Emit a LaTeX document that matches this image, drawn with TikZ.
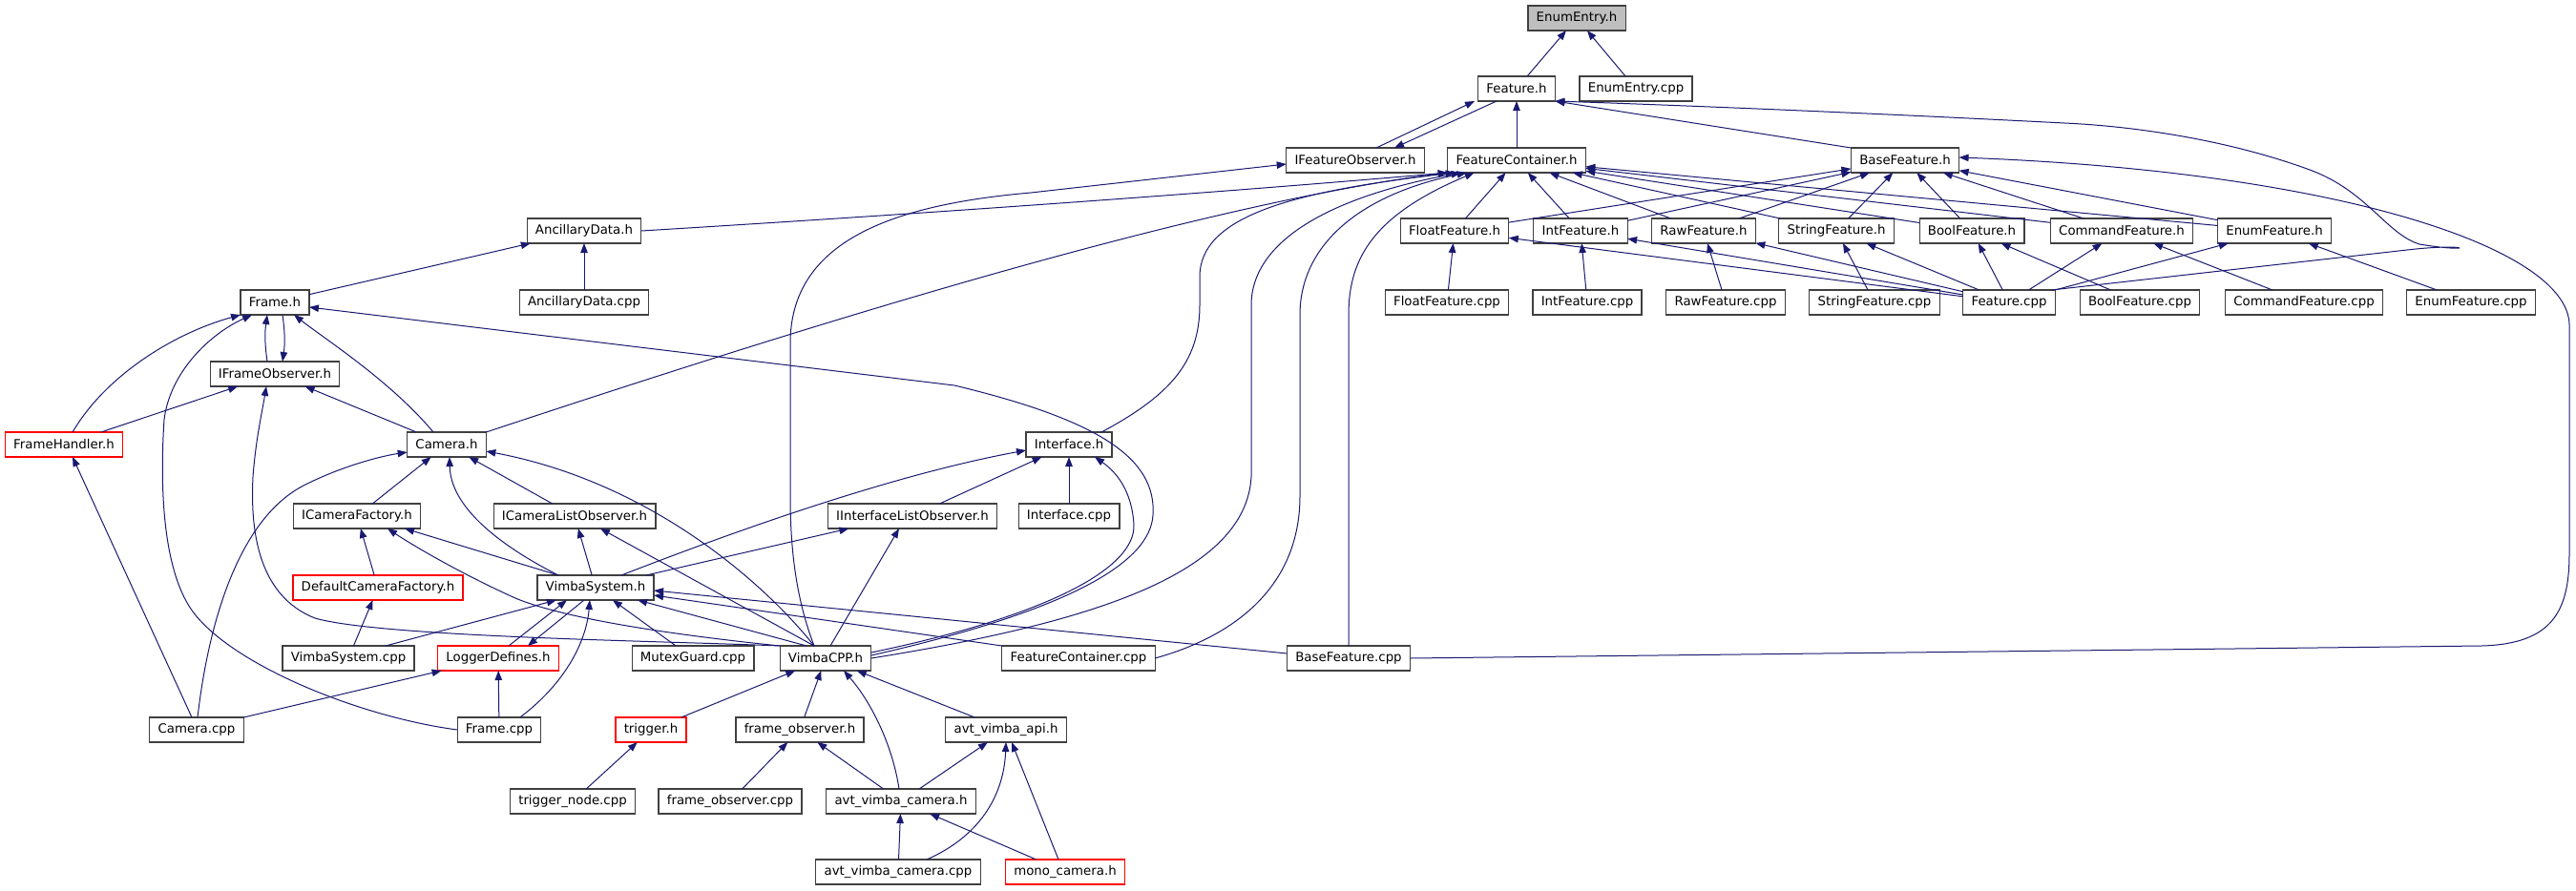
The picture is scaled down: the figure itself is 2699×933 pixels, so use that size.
\documentclass[tikz,border=0pt]{standalone}
\usepackage{fontspec}
\setmainfont{DejaVu Sans}
\usetikzlibrary{arrows.meta,calc}
\definecolor{edgeblue}{RGB}{25,25,112}
\definecolor{rootgray}{RGB}{191,191,191}
\begin{document}
\begin{tikzpicture}[x=0.75pt,y=-0.75pt,
  every node/.style={draw=black!75, line width=0.9pt, fill=white, minimum height=19.5pt, inner xsep=6.6pt, inner ysep=0pt, outer sep=0pt},
  root/.style={fill=rootgray},
  trunc/.style={draw=red},
  inc/.style={draw=edgeblue, line width=0.75pt, -{Triangle[length=7.5pt,width=5.6pt]}}]
\useasboundingbox (0,0) rectangle (2699,933);

\node (ee) [root] at (1652,19) {EnumEntry.h};
\node (fh) at (1589,93) {Feature.h};
\node (eecpp) at (1714,93) {EnumEntry.cpp};
\node (ifo) at (1420,168) {IFeatureObserver.h};
\node (fc) at (1589,168) {FeatureContainer.h};
\node (bf) at (1996,168) {BaseFeature.h};

\node (ad) at (612,242) {AncillaryData.h};
\node (ffh) at (1524,242) {FloatFeature.h};
\node (ifh) at (1656,242) {IntFeature.h};
\node (rfh) at (1785,242) {RawFeature.h};
\node (sfh) at (1924,242) {StringFeature.h};
\node (bofh) at (2066,242) {BoolFeature.h};
\node (cfh) at (2223,242) {CommandFeature.h};
\node (efh) at (2383,242) {EnumFeature.h};

\node (frh) at (288,317) {Frame.h};
\node (adcpp) at (612,317) {AncillaryData.cpp};
\node (ffcpp) at (1516,317) {FloatFeature.cpp};
\node (ifcpp) at (1663,317) {IntFeature.cpp};
\node (rfcpp) at (1808,317) {RawFeature.cpp};
\node (sfcpp) at (1964,317) {StringFeature.cpp};
\node (fcpp) at (2105,317) {Feature.cpp};
\node (bofcpp) at (2242,317) {BoolFeature.cpp};
\node (cfcpp) at (2414,317) {CommandFeature.cpp};
\node (efcpp) at (2589,317) {EnumFeature.cpp};

\node (ifro) at (288,392) {IFrameObserver.h};
\node (fhd) [trunc] at (67,466) {FrameHandler.h};
\node (cam) at (468,466) {Camera.h};
\node (intf) at (1120,466) {Interface.h};

\node (icf) at (374,541) {ICameraFactory.h};
\node (iclo) at (602,541) {ICameraListObserver.h};
\node (iilo) at (956,541) {IInterfaceListObserver.h};
\node (intfcpp) at (1120,541) {Interface.cpp};

\node (dcf) [trunc] at (396,616) {DefaultCameraFactory.h};
\node (vs) at (624,616) {VimbaSystem.h};

\node (vscpp) at (365,690) {VimbaSystem.cpp};
\node (ld) [trunc] at (522,690) {LoggerDefines.h};
\node (mg) at (726,690) {MutexGuard.cpp};
\node (vcpp) at (865,690) {VimbaCPP.h};
\node (fccpp) at (1130,690) {FeatureContainer.cpp};
\node (bfcpp) at (1413,690) {BaseFeature.cpp};

\node (camcpp) at (206,765) {Camera.cpp};
\node (frcpp) at (523,765) {Frame.cpp};
\node (trg) [trunc] at (682,765) {trigger.h};
\node (fo) at (838,765) {frame\_observer.h};
\node (api) at (1054,765) {avt\_vimba\_api.h};

\node (tn) at (600,840) {trigger\_node.cpp};
\node (focpp) at (765,840) {frame\_observer.cpp};
\node (avc) at (944,840) {avt\_vimba\_camera.h};

\node (avccpp) at (941,914) {avt\_vimba\_camera.cpp};
\node (mono) [trunc] at (1116,914) {mono\_camera.h};

\draw[inc] (fh) -- (ee);
\draw[inc] (eecpp) -- (ee);
\draw[inc] ($(ifo.north)+(22,0)$) -- ($(fh.south)+(-44,0)$);
\draw[inc] ($(fh.south)+(-21,0)$) -- ($(ifo.north)+(41,0)$);
\draw[inc] (fc) -- (fh);
\draw[inc] (bf.north west) -- (fh.south east);
\draw[inc] ($(fcpp.north east)+(-4,0)$) -- (2522,262) .. controls (2590,254) and (2595,266) .. (2535,256) .. controls (2500,245) and (2480,200) .. (2420,178) .. controls (2330,145) and (2230,132) .. (2163,129) .. controls (1950,118) and (1750,110) .. (fh.south east);
\draw[inc] (bfcpp.east) -- (2600,677) .. controls (2675,675) and (2692,640) .. (2692,580) -- (2692,340) .. controls (2690,260) and (2450,180) .. ($(bf.east)+(0,-3)$);

\draw[inc] (ffh) -- (fc);
\draw[inc] (ifh) -- (fc);
\draw[inc] (rfh) -- (fc);
\draw[inc] (sfh) -- (fc);
\draw[inc] (bofh) -- (fc);
\draw[inc] (cfh) -- (fc);
\draw[inc] (efh) -- (fc);
\draw[inc] (ffh) -- (bf);
\draw[inc] (ifh) -- (bf);
\draw[inc] (rfh) -- (bf);
\draw[inc] (sfh) -- (bf);
\draw[inc] (bofh) -- (bf);
\draw[inc] (cfh) -- (bf);
\draw[inc] (efh) -- (bf);
\draw[inc] (fcpp) -- (ffh);
\draw[inc] (fcpp) -- (ifh);
\draw[inc] (fcpp) -- (rfh);
\draw[inc] (fcpp) -- (sfh);
\draw[inc] (fcpp) -- (bofh);
\draw[inc] (fcpp) -- (cfh);
\draw[inc] (fcpp) -- (efh);
\draw[inc] (ffcpp) -- (ffh);
\draw[inc] (ifcpp) -- (ifh);
\draw[inc] (rfcpp) -- (rfh);
\draw[inc] (sfcpp) -- (sfh);
\draw[inc] (bofcpp) -- (bofh);
\draw[inc] (cfcpp) -- (cfh);
\draw[inc] (efcpp) -- (efh);

\draw[inc] (ad.east) .. controls (1000,222) and (1300,200) .. (fc.south west);
\draw[inc] (adcpp) -- (ad);
\draw[inc] (frh) -- (ad);

\draw[inc] ($(ifro.north)+(-8,0)$) to[bend left=8] ($(frh.south)+(-8,0)$);
\draw[inc] ($(frh.south)+(8,0)$) to[bend left=8] ($(ifro.north)+(8,0)$);
\draw[inc] ($(fhd.north)+(9,0)$) .. controls (110,395) and (180,350) .. (frh.south west);
\draw[inc] (fhd) -- (ifro);
\draw[inc] ($(cam.north)+(-14,0)$) .. controls (410,400) and (340,355) .. ($(frh.south)+(20,0)$);
\draw[inc] (cam) -- (ifro);
\draw[inc] (frcpp.west) .. controls (380,752) and (250,700) .. (205,645) .. controls (168,600) and (168,500) .. (172,440) .. controls (178,390) and (220,350) .. ($(frh.south west)+(12,0)$);
\draw[inc] ($(vcpp.east)+(0,-3)$) .. controls (1120,640) and (1205,590) .. (1208,540) .. controls (1212,480) and (1150,440) .. (1000,404) -- ($(frh.east)+(0,5)$);
\draw[inc] (vcpp.north west) .. controls (700,672) and (400,668) .. (330,648) .. controls (272,625) and (262,560) .. (265,500) .. controls (268,460) and (275,430) .. ($(ifro.south)+(-9,0)$);
\draw[inc] (vcpp.north west) .. controls (700,665) and (590,648) .. (540,627) .. controls (480,600) and (430,570) .. ($(icf.south)+(32,0)$);
\draw[inc] (cam.north east) .. controls (850,340) and (1250,215) .. (fc.south west);

\draw[inc] ($(camcpp.north)+(-5,0)$) -- ($(fhd.south)+(9,0)$);
\draw[inc] ($(camcpp.north)+(1,0)$) .. controls (220,640) and (255,540) .. (320,508) .. controls (360,488) and (400,478) .. ($(cam.west)+(0,8)$);
\draw[inc] (camcpp.north east) -- ($(ld.south west)+(4,0)$);

\draw[inc] (icf) -- (cam);
\draw[inc] ($(vs.north)+(-39,0)$) .. controls (520,570) and (472,530) .. ($(cam.south)+(3,0)$);
\draw[inc] (iclo) -- (cam);
\draw[inc] ($(vcpp.north)+(-12,0)$) .. controls (800,610) and (680,505) .. ($(cam.east)+(0,7)$);
\draw[inc] (dcf) -- (icf);
\draw[inc] ($(vs.north)+(-39,0)$) -- ($(icf.south)+(50,0)$);
\draw[inc] (vs) -- (iclo);
\draw[inc] ($(vcpp.north)+(-12,0)$) -- ($(iclo.south)+(27,0)$);

\draw[inc] (intfcpp) -- (intf);
\draw[inc] (iilo) -- (intf);
\draw[inc] ($(vs.north)+(27,0)$) .. controls (800,545) and (950,495) .. ($(intf.west)+(0,6)$);
\draw[inc] ($(vcpp.east)+(0,-6)$) .. controls (1100,645) and (1190,595) .. (1188,550) .. controls (1186,515) and (1170,495) .. ($(intf.south east)+(-18,0)$);
\draw[inc] ($(intf.north)+(34,0)$) .. controls (1225,415) and (1257,380) .. (1257,320) -- (1257,290) .. controls (1257,225) and (1360,200) .. ($(fc.south west)+(8,0)$);
\draw[inc] ($(vs.north east)+(-8,0)$) -- ($(iilo.south west)+(22,0)$);
\draw[inc] ($(vcpp.north)+(5,0)$) -- ($(iilo.south)+(-14,0)$);

\draw[inc] (vscpp) -- (dcf);
\draw[inc] ($(vscpp.north east)+(-30,0)$) -- ($(vs.south west)+(20,0)$);
\draw[inc] ($(ld.north)+(11,0)$) -- ($(vs.south)+(-30,0)$);
\draw[inc] ($(vs.south)+(-12,0)$) -- ($(ld.north)+(31,0)$);
\draw[inc] (mg) -- (vs);
\draw[inc] ($(vcpp.north)+(-20,0)$) -- ($(vs.south east)+(-17,0)$);
\draw[inc] (fccpp.north west) -- ($(vs.east)+(0,8)$);
\draw[inc] ($(bfcpp.west)+(0,-5)$) -- ($(vs.east)+(0,3)$);
\draw[inc] ($(frcpp.north east)+(-22,0)$) .. controls (590,718) and (614,675) .. ($(vs.south)+(-6,0)$);
\draw[inc] (frcpp) -- (ld);

\draw[inc] (trg) -- (vcpp);
\draw[inc] (fo) -- (vcpp);
\draw[inc] ($(avc.north)+(-2,0)$) .. controls (935,780) and (912,735) .. ($(vcpp.south)+(19,0)$);
\draw[inc] (api) -- (vcpp);
\draw[inc] (tn) -- (trg);
\draw[inc] (focpp) -- (fo);
\draw[inc] (avc) -- (fo);
\draw[inc] (avc) -- (api);
\draw[inc] (avccpp) -- (avc);
\draw[inc] ($(avccpp.north)+(30,0)$) .. controls (1030,875) and (1052,830) .. (api.south);
\draw[inc] (mono) -- (avc);
\draw[inc] ($(mono.north)+(-7,0)$) -- ($(api.south)+(6,0)$);

\draw[inc] ($(vcpp.north)+(-12,0)$) .. controls (835,630) and (828,580) .. (828,520) -- (828,360) .. controls (828,255) and (930,215) .. (1080,202) -- ($(ifo.west)+(0,4)$);
\draw[inc] (vcpp.east) .. controls (1150,652) and (1305,600) .. (1311,500) -- (1311,320) .. controls (1311,250) and (1400,205) .. ($(fc.south west)+(14,0)$);
\draw[inc] (fccpp.east) .. controls (1300,665) and (1362,610) .. (1362,520) -- (1362,330) .. controls (1362,260) and (1420,205) .. ($(fc.south west)+(20,0)$);
\draw[inc] (bfcpp.north) -- (1413,330) .. controls (1413,270) and (1440,225) .. ($(fc.south west)+(28,0)$);
\end{tikzpicture}
\end{document}
